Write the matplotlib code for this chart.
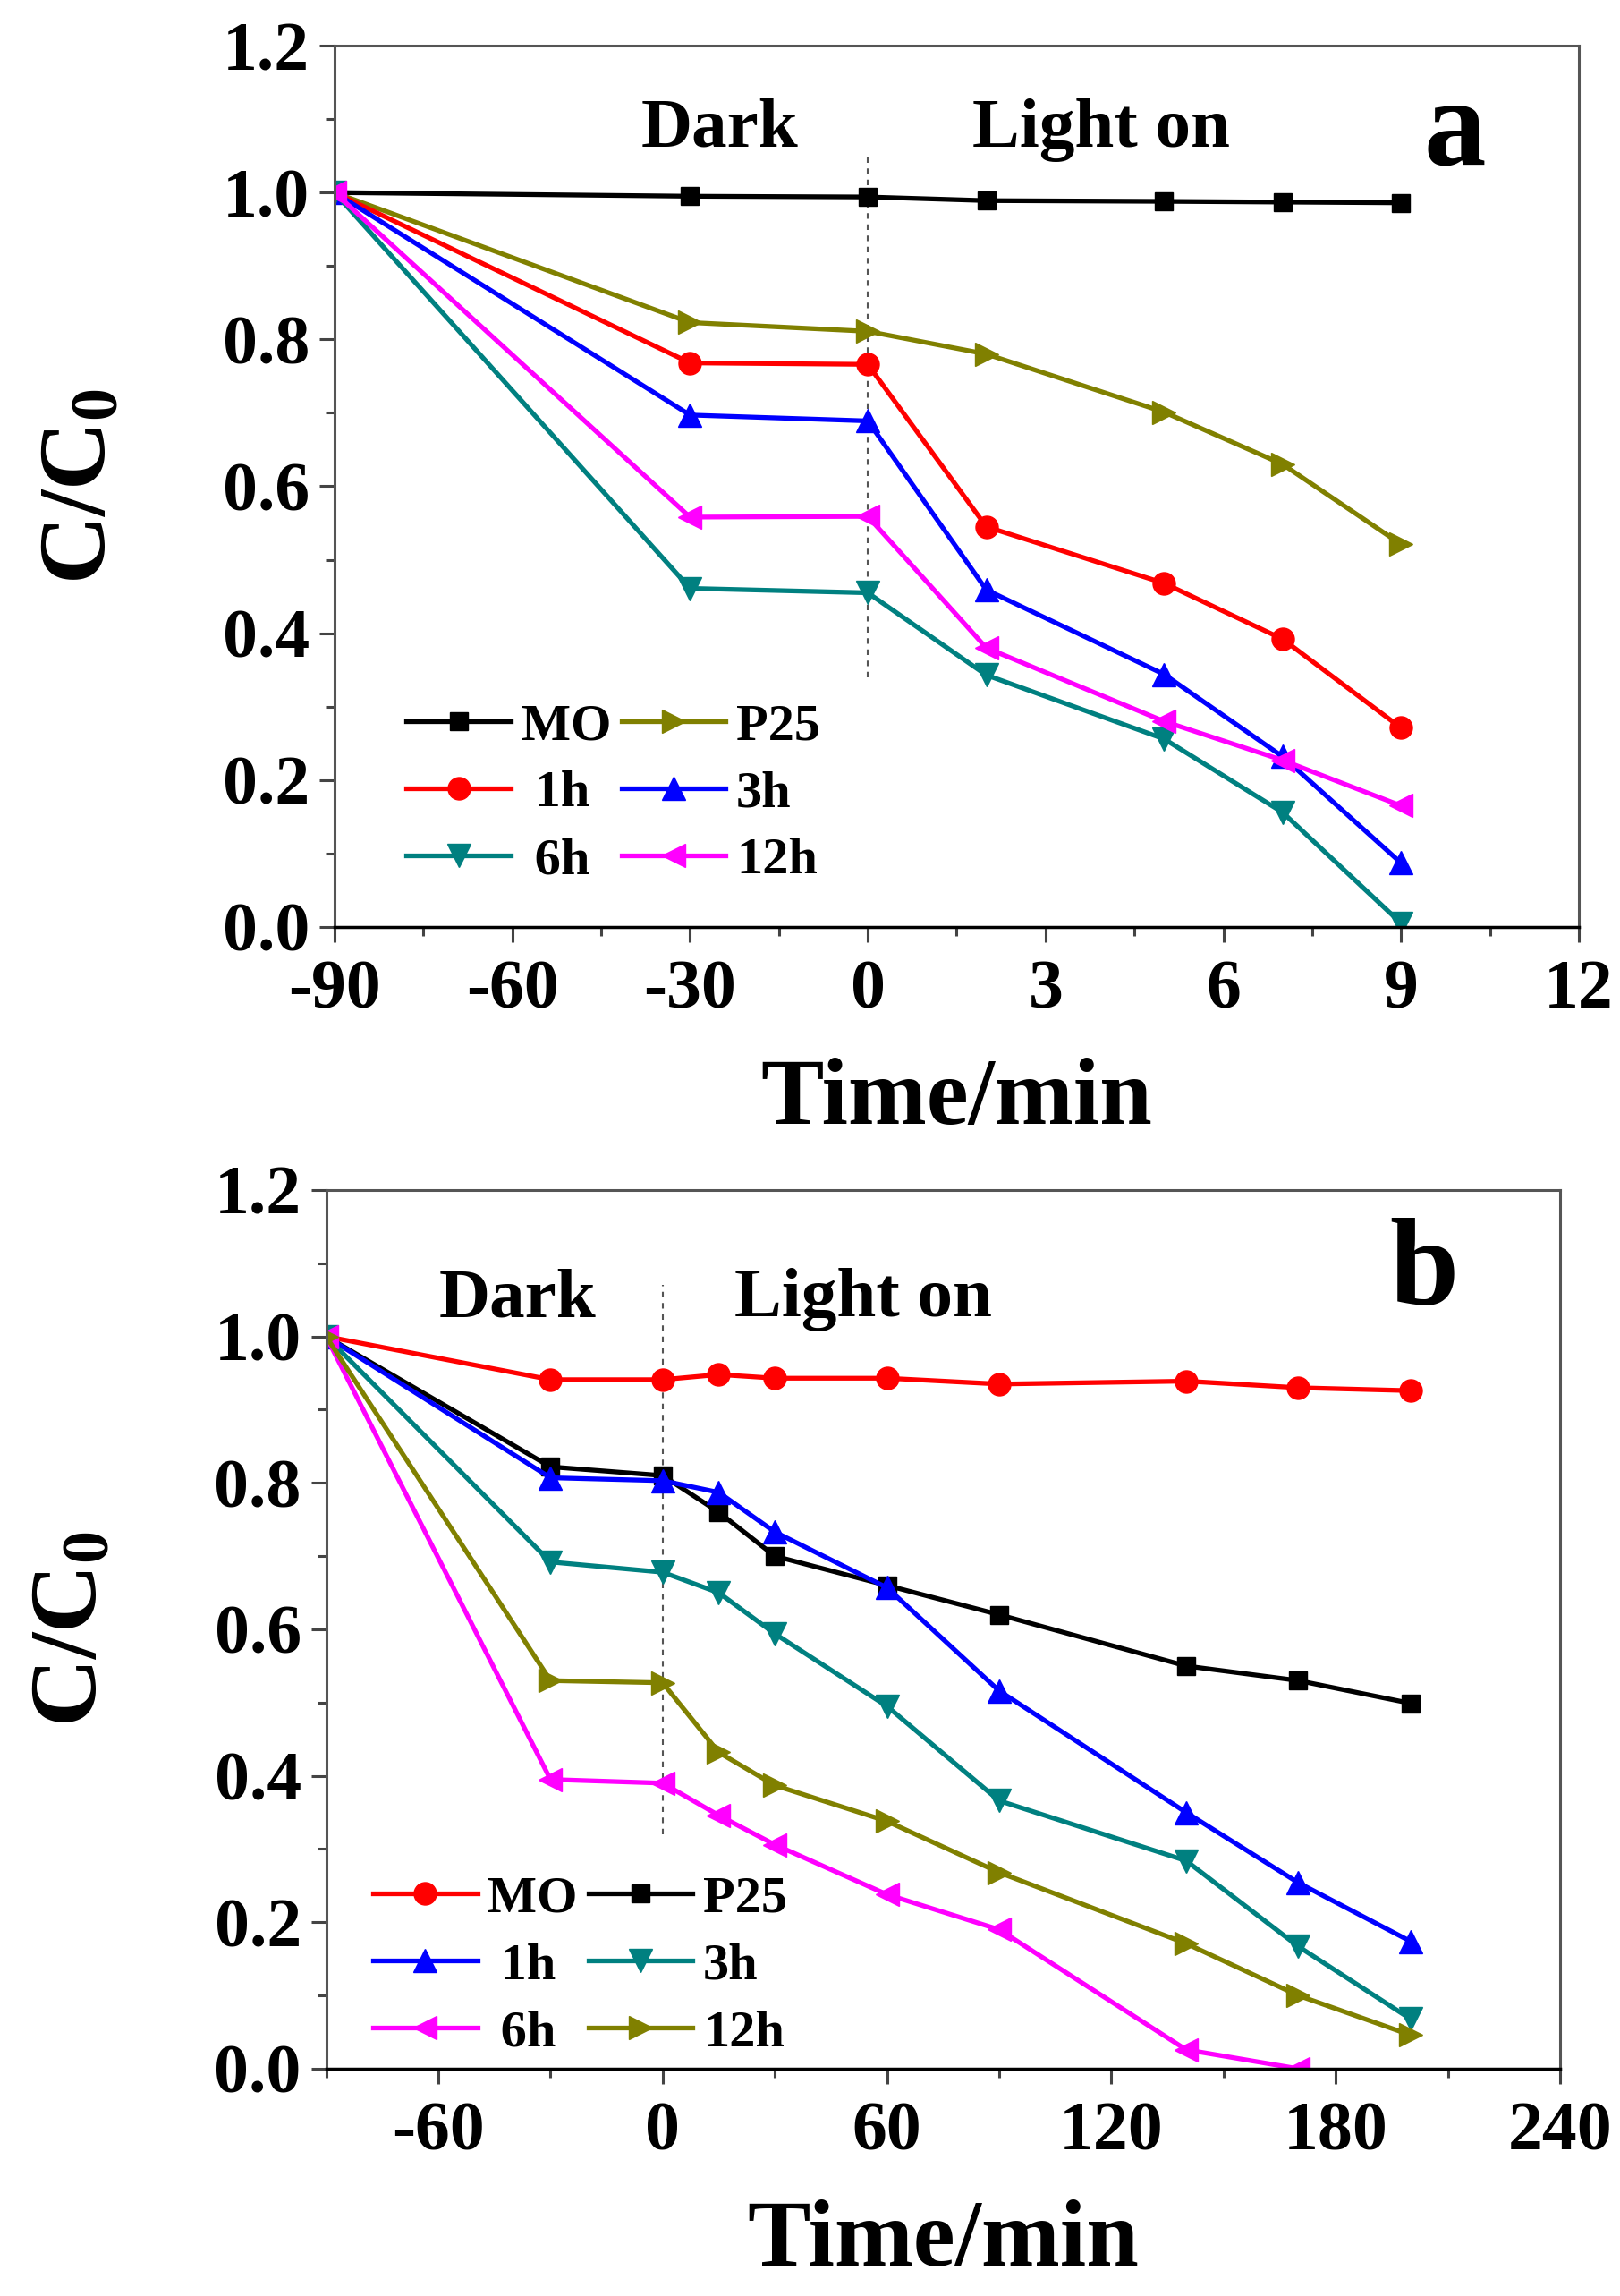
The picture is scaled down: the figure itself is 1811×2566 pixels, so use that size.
import numpy as np
import matplotlib
matplotlib.use("Agg")
import matplotlib.pyplot as plt
from matplotlib.ticker import MultipleLocator, FixedLocator, FormatStrFormatter

plt.rcParams['font.family'] = ['Liberation Serif', 'DejaVu Serif']
plt.rcParams['font.weight'] = 'bold'
plt.rcParams['axes.unicode_minus'] = False
plt.rcParams['mathtext.fontset'] = 'custom'
plt.rcParams['mathtext.rm'] = 'Liberation Serif:bold'
plt.rcParams['mathtext.it'] = 'Liberation Serif:bold'
plt.rcParams['mathtext.bf'] = 'Liberation Serif:bold'

# panel a data
time_a = [-90, -30, 0, 2, 5, 7, 9]
mo_a = [1.0, 0.995, 0.994, 0.989, 0.988, 0.987, 0.986]
p25_a = [1.0, 0.823, 0.811, 0.780, 0.701, 0.630, 0.521]
h1_a = [1.0, 0.768, 0.766, 0.545, 0.468, 0.392, 0.271]
h3_a = [1.0, 0.697, 0.689, 0.459, 0.344, 0.232, 0.087]
h6_a = [1.0, 0.461, 0.455, 0.343, 0.256, 0.156, 0.005]
h12_a = [1.0, 0.558, 0.559, 0.380, 0.280, 0.227, 0.165]

# panel b data
time_b = [-90, -30, 0, 15, 30, 60, 90, 140, 170, 200]
mo_b = [1.0, 0.941, 0.941, 0.948, 0.943, 0.943, 0.935, 0.939, 0.930, 0.926]
p25_b = [1.0, 0.822, 0.810, 0.760, 0.700, 0.660, 0.620, 0.550, 0.530, 0.499]
h1_b = [1.0, 0.807, 0.803, 0.787, 0.733, 0.657, 0.516, 0.350, 0.254, 0.174]
h3_b = [1.0, 0.692, 0.678, 0.650, 0.594, 0.495, 0.366, 0.284, 0.167, 0.068]
h6_b = [1.0, 0.395, 0.390, 0.346, 0.306, 0.238, 0.190, 0.026, 0.0]
h12_b = [1.0, 0.530, 0.527, 0.432, 0.387, 0.338, 0.268, 0.171, 0.100, 0.046]

ticks_a = [-90, -60, -30, 0, 3, 6, 9, 12]
minor_a = [-75, -45, -15, 1.5, 4.5, 7.5, 10.5]

OLIVE = '#808000'
TEAL = '#008080'
MAG = '#ff00ff'
LW = 3.8
MS = {'s': 15, 'o': 18, '^': 19, 'v': 19, '<': 19, '>': 19}


def fwd(t):
    t = np.asarray(t, dtype=float)
    return np.where(t < 0, t / 10.0, t)


def inv(u):
    u = np.asarray(u, dtype=float)
    return np.where(u < 0, u * 10.0, u)


def style_axes(ax):
    for s in ['left', 'top', 'right']:
        ax.spines[s].set_color('#555555')
        ax.spines[s].set_linewidth(2.2)
    ax.spines['bottom'].set_color('black')
    ax.spines['bottom'].set_linewidth(2.5)
    ax.tick_params(which='major', direction='out', length=12, width=2.2,
                   labelsize=56, color='#444444', pad=8)
    ax.tick_params(which='minor', direction='out', length=7, width=2.2,
                   color='#444444')
    ax.tick_params(axis='x', which='major', pad=14)
    ax.set_ylim(0, 1.2)
    ax.yaxis.set_major_locator(MultipleLocator(0.2))
    ax.yaxis.set_minor_locator(MultipleLocator(0.1))
    ax.yaxis.set_major_formatter(FormatStrFormatter('%.1f'))
    for lab in ax.get_xticklabels() + ax.get_yticklabels():
        lab.set_fontweight('bold')
    ax.set_xlabel('Time/min', fontsize=76, fontweight='bold', labelpad=28)
    ax.set_ylabel(r'C/C$_0$', fontsize=76, fontweight='bold', labelpad=78)


def plot_series(ax, x, y, color, marker, label):
    n = len(y)
    return ax.plot(x[:n], y, color=color, marker=marker, lw=LW,
                   ms=MS[marker], label=label)[0]


fig = plt.figure(figsize=(18.11, 25.66), dpi=100)

# ---------- panel a ----------
ax1 = fig.add_axes([0.2065, 0.5963, 0.7681, 0.3838])
ax1.set_xscale('function', functions=(fwd, inv))
ax1.set_xlim(-90, 12)
ax1.xaxis.set_major_locator(FixedLocator(ticks_a))
ax1.xaxis.set_minor_locator(FixedLocator(minor_a))
ax1.set_xticklabels([str(t) for t in ticks_a])
ax1.plot([0, 0], [0.34, 1.05], ls=(0, (3, 3)), color='#555555', lw=1.5)

l_mo = plot_series(ax1, time_a, mo_a, 'black', 's', 'MO')
l_p25 = plot_series(ax1, time_a, p25_a, OLIVE, '>', 'P25')
l_1 = plot_series(ax1, time_a, h1_a, 'red', 'o', ' 1h')
l_3 = plot_series(ax1, time_a, h3_a, 'blue', '^', '3h')
l_6 = plot_series(ax1, time_a, h6_a, TEAL, 'v', ' 6h')
l_12 = plot_series(ax1, time_a, h12_a, MAG, '<', '12h')

ax1.legend(handles=[l_mo, l_1, l_6, l_p25, l_3, l_12], ncol=2, frameon=False,
           loc='lower left', bbox_to_anchor=(0.02, -0.005),
           handlelength=2.0, handletextpad=0.2, columnspacing=0.2,
           labelspacing=0.38, prop={'weight': 'bold', 'size': 42})

ax1.text(-25, 1.085, 'Dark', fontsize=57, fontweight='bold', ha='center', va='center')
ax1.text(3.94, 1.085, 'Light on', fontsize=57, fontweight='bold', ha='center', va='center')
ax1.text(9.9, 1.08, 'a', fontsize=100, fontweight='bold', ha='center', va='center')
style_axes(ax1)

# ---------- panel b ----------
ax2 = fig.add_axes([0.2013, 0.0990, 0.7617, 0.3827])
ax2.set_xlim(-90, 240)
ax2.xaxis.set_major_locator(FixedLocator([-60, 0, 60, 120, 180, 240]))
ax2.xaxis.set_minor_locator(FixedLocator([-90, -30, 30, 90, 150, 210]))
ax2.plot([0, 0], [0.32, 1.07], ls=(0, (3, 3)), color='#555555', lw=1.5)

m_mo = plot_series(ax2, time_b, mo_b, 'red', 'o', 'MO')
m_p25 = plot_series(ax2, time_b, p25_b, 'black', 's', 'P25')
m_1 = plot_series(ax2, time_b, h1_b, 'blue', '^', ' 1h')
m_3 = plot_series(ax2, time_b, h3_b, TEAL, 'v', '3h')
m_6 = plot_series(ax2, time_b, h6_b, MAG, '<', ' 6h')
m_12 = plot_series(ax2, time_b, h12_b, OLIVE, '>', '12h')

ax2.legend(handles=[m_mo, m_1, m_6, m_p25, m_3, m_12], ncol=2, frameon=False,
           loc='lower left', bbox_to_anchor=(0.0, -0.04),
           handlelength=2.0, handletextpad=0.2, columnspacing=0.2,
           labelspacing=0.38, prop={'weight': 'bold', 'size': 42})

ax2.text(-38.8, 1.05, 'Dark', fontsize=57, fontweight='bold', ha='center', va='center')
ax2.text(53.7, 1.05, 'Light on', fontsize=57, fontweight='bold', ha='center', va='center')
ax2.text(203.5, 1.085, 'b', fontsize=100, fontweight='bold', ha='center', va='center')
style_axes(ax2)

fig.savefig('out.png', dpi=100, facecolor='white')
